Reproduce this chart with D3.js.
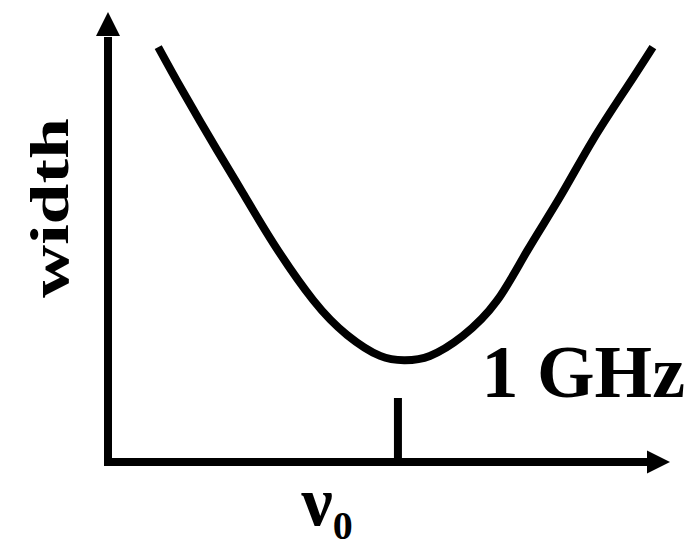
<!DOCTYPE html>
<html>
<head>
<meta charset="utf-8">
<script src="https://cdn.jsdelivr.net/npm/d3@7"></script>
<style>
  html, body { margin: 0; padding: 0; background: #fff; }
  svg { display: block; }
  text { font-family: "Liberation Serif", "Times New Roman", serif; fill: #000; }
</style>
</head>
<body>
<script>
// Linewidth versus frequency, with its minimum near the resonance ν0
const freq  = [9.3, 13.9, 20.2, 25.0, 30.6, 38.0, 44.3, 50.4, 55.0, 59.6, 65.7, 72.0, 77.6, 83.7, 89.8, 96.1, 100.9];
const width = [97.4, 86.9, 73.2, 63.1, 51.4, 38.0, 29.8, 24.9, 23.9, 24.9, 29.6, 37.8, 49.5, 62.2, 75.6, 88.0, 97.4];

// Marked frequency on the horizontal axis
const tickValues = [53.6];
const tickSymbol = "ν";
const tickSub = "0";

// Axis and scale labels
const yLabel = "width";
const scaleLabel = "1 GHz";

const W = 690, H = 548;
const svg = d3.select("body").append("svg")
  .attr("width", W).attr("height", H);

svg.append("rect").attr("width", W).attr("height", H).attr("fill", "#fff");

const x = d3.scaleLinear().domain([0, 100]).range([108, 648]);
const y = d3.scaleLinear().domain([0, 100]).range([462, 36]);

const axisW = 8;
const [x0, x1] = x.range();
const [y0, y1] = y.range();

// Horizontal axis with the single ν0 tick pointing upward
const xAxis = d3.axisBottom(x)
  .tickValues(tickValues)
  .tickSizeInner(-64)
  .tickSizeOuter(0)
  .tickFormat("");

const gx = svg.append("g")
  .attr("transform", `translate(0,${y0})`)
  .call(xAxis);
gx.select(".domain").remove();
gx.selectAll(".tick line").attr("stroke", "#000").attr("stroke-width", axisW);

svg.append("line")
  .attr("x1", x0 - 4).attr("x2", x1 + 1)
  .attr("y1", y0).attr("y2", y0)
  .attr("stroke", "#000").attr("stroke-width", axisW);

// Vertical axis line
const gy = svg.append("g")
  .attr("transform", `translate(${x0},0)`)
  .call(d3.axisLeft(y).tickValues([]).tickSizeOuter(0));
gy.select(".domain").remove();

svg.append("line")
  .attr("x1", x0).attr("x2", x0)
  .attr("y1", y0 + 4).attr("y2", y1 + 1)
  .attr("stroke", "#000").attr("stroke-width", axisW);

// Arrowheads
svg.append("path")
  .attr("d", `M${x0},${y1 - 24} L${x0 - 12},${y1} L${x0 + 12},${y1} Z`)
  .attr("fill", "#000");
svg.append("path")
  .attr("d", `M${x1 + 22},${y0} L${x1 - 1},${y0 - 11.5} L${x1 - 1},${y0 + 11.5} Z`)
  .attr("fill", "#000");

// Curve
const line = d3.line()
  .x((d, i) => x(freq[i]))
  .y(d => y(d))
  .curve(d3.curveNatural);

svg.append("path")
  .datum(width)
  .attr("d", line)
  .attr("fill", "none")
  .attr("stroke", "#000")
  .attr("stroke-width", 8)
  .attr("stroke-linecap", "butt")
  .attr("stroke-linejoin", "round");

// Tick label ν0
const tl = svg.append("text")
  .attr("x", x(tickValues[0]) - 96)
  .attr("y", 525)
  .attr("font-size", 70)
  .attr("font-weight", "bold");
tl.append("tspan").text(tickSymbol);
tl.append("tspan")
  .attr("font-size", 40)
  .attr("dy", 14)
  .text(tickSub);

// Scale label
svg.append("text")
  .attr("x", 685)
  .attr("y", 397)
  .attr("text-anchor", "end")
  .attr("font-size", 74)
  .attr("font-weight", "bold")
  .text(scaleLabel);

// Y label, rotated
svg.append("text")
  .attr("transform", "translate(68,208) rotate(-90)")
  .attr("text-anchor", "middle")
  .attr("font-size", 54)
  .attr("font-weight", "bold")
  .attr("textLength", 180)
  .attr("lengthAdjust", "spacingAndGlyphs")
  .text(yLabel);
</script>
</body>
</html>
